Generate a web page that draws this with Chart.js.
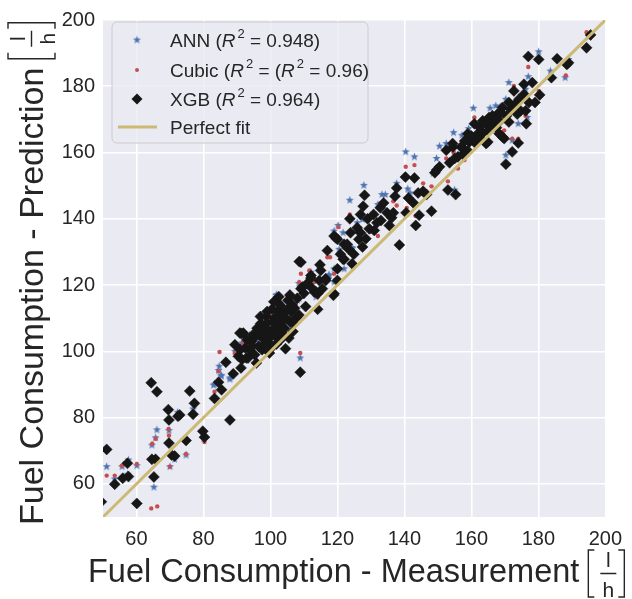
<!DOCTYPE html>
<html>
<head>
<meta charset="utf-8">
<script src="https://cdn.jsdelivr.net/npm/chart.js@4"></script>
<style>
  html, body { margin: 0; padding: 0; background: #ffffff; }
  #wrap { width: 632px; height: 599px; }
</style>
</head>
<body>
<div id="wrap"><canvas id="fuelChart" width="632" height="599"></canvas></div>
<script>
// tick values of both axes
const xTicks = [60, 80, 100, 120, 140, 160, 180, 200];
const yTicks = [60, 80, 100, 120, 140, 160, 180, 200];
const axisMin = 50;
const axisMax = 200;

// legend labels (R2 is drawn as italic R with superscript 2)
const annLabel = ['ANN (', 'R2', ' = 0.948)'];
const cubicLabel = ['Cubic (', 'R2', ' = (', 'R2', ' = 0.96)'];
const xgbLabel = ['XGB (', 'R2', ' = 0.964)'];
const fitLabel = ['Perfect fit'];
const xTitle = 'Fuel Consumption - Measurement';
const yTitle = 'Fuel Consumption - Prediction';

const xgbPoints = [
  [49.5,54.6],[51.1,70.4],[53.5,59.9],[55.9,61.7],[57.6,62.2],[57.3,66.2],[60.1,54.1],[64.4,90.5],
  [66.1,87.8],[64.6,67.4],[65.7,67.4],[65.2,62.1],[69.5,82.4],[69.7,79.3],[69.7,72.3],[70.5,68.7],
  [71.4,68.4],[72.4,80.4],[72.9,80.8],[74.8,73.1],[75.9,88.0],[77.3,84.3],[76.9,81.0],[79.8,75.9],
  [80.3,74.1],[83.3,85.8],[85.4,88.4],[84.5,90.7],[86.7,96.7],[87.9,79.3],[89.4,102.0],[88.9,93.2],
  [90.9,105.5],[91.9,105.5],[90.4,98.5],[91.2,95.0],[93.3,98.0],[95.3,99.0],[94.3,103.0],[94.8,105.0],
  [97.3,108.1],[98.3,106.0],[99.3,103.0],[100.2,101.0],[101.2,110.0],[102.2,112.0],[103.2,109.0],[102.2,114.7],
  [105.2,115.4],[106.2,112.0],[107.2,113.0],[104.2,107.0],[106.7,106.0],[100.7,106.5],[109.1,118.9],[108.6,127.1],
  [108.9,93.7],[96.5,101.5],[97.8,103.8],[99.0,108.5],[100.0,104.5],[101.5,107.5],[102.8,105.5],[103.8,111.5],
  [104.8,109.8],[105.5,104.0],[98.8,110.5],[100.5,112.8],[96.0,107.0],[92.5,101.0],[93.8,100.5],[95.8,96.5],
  [91.0,100.5],[99.7,99.5],[101.8,102.2],[103.0,103.5],[104.5,100.8],[106.0,108.8],[107.8,110.2],[108.5,111.0],
  [102.5,116.5],[101.0,115.0],[95.0,104.0],[96.8,105.2],[97.5,100.5],[98.0,102.0],[99.5,106.0],[100.8,109.0],
  [101.5,104.5],[102.0,110.5],[103.5,107.0],[104.0,105.0],[105.0,112.5],[106.5,114.0],[107.0,108.5],[105.8,117.0],
  [103.0,113.8],[99.0,112.0],[97.0,110.5],[93.0,103.5],[91.5,97.5],[94.5,101.5],[108.0,116.0],[110.0,117.5],
  [111.0,120.5],[112.5,119.0],[110.5,113.5],[91.3,105.4],[97.2,105.1],[109.6,119.4],[113.6,117.9],[112.1,122.9],
  [114.6,121.4],[116.5,121.9],[109.1,126.9],[97.1,108.4],[92.8,98.0],
  [112.1,122.1],[114.8,126.1],[115.0,124.4],[114.1,112.7],[113.1,117.9],[114.1,117.4],[117.0,130.4],[116.5,121.4],
  [115.5,118.9],[119.0,117.4],[120.0,124.9],[122.0,127.8],[123.4,130.8],[124.4,126.4],[119.5,134.3],[122.0,132.3],
  [118.8,116.9],[120.0,121.4],[121.7,127.8],[120.9,129.3],[119.0,134.8],[120.0,133.8],[124.9,129.3],[122.9,132.3],
  [123.9,135.8],[126.4,133.8],[126.9,135.8],[125.9,137.3],[123.7,140.0],[126.9,141.3],[127.7,143.8],[128.1,147.1],
  [127.5,131.5],[128.5,134.0],[129.5,137.0],[131.0,136.5],[133.0,139.5],[135.5,138.0],[129.0,140.0],
  [130.8,141.3],[131.8,138.8],[132.8,143.3],[133.8,144.8],[134.8,141.8],[136.2,140.3],[136.7,141.8],[137.2,146.8],
  [137.7,149.3],[138.5,132.1],[140.3,152.6],[143.0,152.3],[141.2,146.3],[142.7,144.8],[144.1,147.8],[145.6,148.3],
  [146.6,147.3],[140.5,141.8],[144.4,141.1],[143.4,138.0],[148.1,142.3],[149.6,154.7],[150.5,155.7],[149.1,153.9],
  [153.0,148.7],[155.3,147.3],[152.5,160.7],[154.5,161.7],[156.0,158.7],[157.2,161.7],[153.5,156.9],
  [154.4,162.7],[156.9,161.7],[155.0,158.2],[159.4,163.2],[158.9,165.7],[160.9,168.7],[161.9,165.7],[162.4,167.7],
  [163.4,169.6],[164.4,168.7],[165.3,170.6],[166.3,171.1],[167.3,169.6],[167.8,171.6],[168.8,172.1],[169.3,173.6],
  [158.0,163.5],[160.0,165.0],[161.0,163.0],[162.5,164.5],[163.5,166.0],[165.0,166.5],[166.0,169.0],[167.5,167.5],
  [168.5,169.5],[170.5,171.0],[171.8,173.0],[173.0,174.5],[157.5,159.5],[159.0,160.5],
  [164.4,162.7],[164.9,163.2],[166.3,167.7],[168.3,165.7],[169.3,164.7],[169.8,164.2],[171.2,175.1],[171.2,169.2],
  [172.7,178.6],[174.2,176.1],[175.7,180.6],[178.2,181.1],[175.7,177.6],[177.2,175.1],[176.2,172.6],[173.7,171.6],
  [174.7,172.6],[176.4,168.7],[174.0,162.9],[172.2,160.2],[170.3,156.5],[177.0,189.0],[180.1,188.1],[179.0,175.1],
  [180.4,177.4],[183.9,182.6],[185.6,188.3],[188.5,186.6],[189.0,187.1],[194.4,191.6],[195.6,195.5]
];
const annPoints = [
  [51.1,65.2],[53.5,61.5],[55.7,65.2],[57.6,67.2],[60.1,65.5],[57.3,62.9],[65.2,59.0],[64.6,71.7],
  [66.1,76.3],[65.7,73.9],[69.7,76.1],[70.0,65.2],[71.4,67.4],[72.3,81.6],[76.9,82.6],[74.8,68.7],
  [80.1,73.6],[83.3,90.1],[84.7,95.5],[84.5,94.2],[85.3,92.5],[87.9,91.6],[101.9,117.1],[108.1,115.4],
  [108.9,98.0],[103.7,109.6],[117.5,122.9],[119.0,120.9],[122.0,124.9],[124.4,131.0],[89.4,100.0],[91.4,102.5],
  [83.0,89.8],[85.3,92.8],[87.9,92.0],[93.8,105.0],[97.3,106.0],[102.7,109.5],[105.2,112.9],[112.1,123.9],
  [113.6,116.4],[140.4,160.2],[143.0,158.7],[127.9,150.1],[123.7,145.6],[133.3,147.3],[134.3,147.3],[137.7,150.7],
  [141.0,149.0],[141.7,147.8],[132.1,144.3],[120.2,138.0],[119.0,136.3],[121.7,135.8],[125.9,138.8],[127.4,139.8],
  [130.8,141.8],[124.4,131.3],[120.5,130.8],[150.5,161.9],[152.5,162.7],[149.6,158.2],[148.6,153.7],[155.0,148.7],
  [117.5,123.1],[119.0,124.9],[180.1,190.4],[177.0,182.9],[171.2,181.1],[188.0,182.6],[189.0,188.1],[183.6,184.6],
  [195.2,195.0],[160.6,173.4],[165.6,173.4],[167.3,174.1],[168.6,173.8],[170.3,176.1],[154.7,166.0],[157.2,165.2],
  [159.2,167.2],[174.0,168.7],[172.2,163.7],[170.3,159.2],[176.2,179.1],[176.7,170.6],[98.5,109.5],[100.5,111.0],
  [104.0,113.5],[106.5,110.5],[96.0,103.5],[110.5,119.5],[114.5,125.8],[108.5,120.5],[101.7,116.9],[108.6,115.9]
];
const cubicPoints = [
  [51.1,62.5],[53.5,62.5],[55.6,65.5],[56.4,66.2],[60.1,66.0],[64.4,52.6],[66.2,53.2],[64.7,72.1],
  [65.7,73.6],[69.6,76.6],[69.7,74.6],[70.0,65.2],[74.8,69.0],[80.3,72.6],[84.8,99.8],[84.5,94.0],
  [83.3,87.8],[89.4,99.5],[108.9,99.5],[105.2,116.9],[99.8,111.4],[102.2,108.0],[104.7,109.5],[109.1,123.4],
  [108.6,120.9],[113.1,120.9],[109.6,116.4],[114.1,116.4],[91.9,102.5],[90.4,98.0],[97.3,106.0],[97.8,108.0],
  [111.6,124.4],[117.0,128.4],[122.0,131.3],[123.4,131.3],[140.4,155.7],[143.0,156.2],[145.6,150.7],[148.1,149.8],
  [136.7,145.3],[137.7,144.0],[140.7,143.3],[143.4,140.8],[132.1,134.8],[129.8,136.0],[123.7,141.3],[124.9,136.0],
  [120.3,137.5],[119.5,134.8],[154.7,159.9],[155.5,157.7],[153.0,151.3],[152.5,158.2],[117.8,128.4],[119.0,123.4],
  [177.0,185.8],[194.4,196.3],[188.2,183.3],[174.0,164.2],[172.7,180.1],[160.9,170.6],[161.9,167.2],[154.7,160.2],
  [157.9,157.7],[156.0,155.2],[167.3,167.7],[169.3,166.2],[176.2,171.1],[180.1,178.6],[172.2,164.2],[169.8,166.7],
  [100.5,106.0],[103.5,112.0],[106.0,110.0],[95.5,102.0],[107.5,114.5],[100.2,111.0],[103.2,113.9]
];

const FONT = '"Liberation Sans", Arial, sans-serif';
const INK = '#262626';
const annColor = '#4C72B0';
const cubicColor = '#C44E52';
const xgbColor = '#161616';
const fitColor = '#CCB974';

// filled 5-point star like matplotlib's '*'
function makeStar(color, outer) {
  const size = Math.ceil(outer * 2 + 2);
  const c = document.createElement('canvas');
  c.width = size; c.height = size;
  const g = c.getContext('2d');
  const inner = outer * 0.42;
  g.beginPath();
  for (let i = 0; i < 10; i++) {
    const r = i % 2 ? inner : outer;
    const a = -Math.PI / 2 + i * Math.PI / 5;
    g.lineTo(size / 2 + r * Math.cos(a), size / 2 + r * Math.sin(a));
  }
  g.closePath();
  g.fillStyle = color;
  g.fill();
  return c;
}
const starImg = makeStar(annColor, 4.2);

const toXY = pts => pts.map(p => ({ x: p[0], y: p[1] }));

// draw label pieces, 'R2' becomes italic R with superscript 2
function drawRich(ctx, parts, x, y, size) {
  ctx.textBaseline = 'alphabetic';
  ctx.textAlign = 'left';
  ctx.fillStyle = INK;
  parts.forEach(p => {
    if (p === 'R2') {
      ctx.font = 'italic ' + size + 'px ' + FONT;
      ctx.fillText('R', x, y);
      x += ctx.measureText('R').width + 2;
      ctx.font = Math.round(size * 0.7) + 'px ' + FONT;
      ctx.fillText('2', x, y - size * 0.45);
      x += ctx.measureText('2').width;
    } else {
      ctx.font = size + 'px ' + FONT;
      ctx.fillText(p, x, y);
      x += ctx.measureText(p).width;
    }
  });
}

// [ l / h ] unit, x = left bracket, m = fraction bar
function drawUnit(ctx, x, m) {
  ctx.strokeStyle = INK;
  ctx.fillStyle = INK;
  ctx.lineWidth = 1.4;
  ctx.beginPath();
  ctx.moveTo(x + 6, m - 23.5); ctx.lineTo(x, m - 23.5); ctx.lineTo(x, m + 23.5); ctx.lineTo(x + 6, m + 23.5);
  ctx.moveTo(x + 30, m - 23.5); ctx.lineTo(x + 36, m - 23.5); ctx.lineTo(x + 36, m + 23.5); ctx.lineTo(x + 30, m + 23.5);
  ctx.moveTo(x + 12, m); ctx.lineTo(x + 28, m);
  ctx.stroke();
  ctx.font = '21px ' + FONT;
  ctx.textAlign = 'center';
  ctx.textBaseline = 'alphabetic';
  ctx.fillText('l', x + 20, m - 7);
  ctx.fillText('h', x + 20, m + 23);
}

const decorPlugin = {
  id: 'decor',
  beforeDraw(chart) {
    const { ctx, chartArea: a } = chart;
    ctx.save();
    ctx.fillStyle = '#EAEAF2';
    ctx.fillRect(a.left, a.top, a.right - a.left, a.bottom - a.top);
    ctx.restore();
  },
  afterDraw(chart) {
    const ctx = chart.ctx;
    ctx.save();
    // legend box
    const bx = 112, by = 22, bw = 256, bh = 121, r = 5;
    ctx.beginPath();
    ctx.roundRect(bx, by, bw, bh, r);
    ctx.fillStyle = 'rgba(234,234,242,0.8)';
    ctx.fill();
    ctx.strokeStyle = '#cccccc';
    ctx.lineWidth = 1;
    ctx.stroke();

    const rows = [40, 70, 99, 127];
    ctx.drawImage(starImg, 137 - starImg.width / 2, rows[0] - starImg.height / 2);
    ctx.fillStyle = cubicColor;
    ctx.beginPath(); ctx.arc(137, rows[1], 2, 0, Math.PI * 2); ctx.fill();
    ctx.fillStyle = xgbColor;
    ctx.beginPath();
    ctx.moveTo(137, rows[2] - 5.5); ctx.lineTo(142.5, rows[2]); ctx.lineTo(137, rows[2] + 5.5); ctx.lineTo(131.5, rows[2]);
    ctx.closePath(); ctx.fill();
    ctx.strokeStyle = fitColor;
    ctx.lineWidth = 3;
    ctx.beginPath(); ctx.moveTo(118, rows[3]); ctx.lineTo(157, rows[3]); ctx.stroke();

    drawRich(ctx, annLabel, 170, rows[0] + 7, 19);
    drawRich(ctx, cubicLabel, 170, rows[1] + 7, 19);
    drawRich(ctx, xgbLabel, 170, rows[2] + 7, 19);
    drawRich(ctx, fitLabel, 170, rows[3] + 7, 19);

    // axis titles
    ctx.font = '32.5px ' + FONT;
    ctx.fillStyle = INK;
    ctx.textAlign = 'left';
    ctx.textBaseline = 'alphabetic';
    ctx.fillText(xTitle, 88, 582);
    const wx = ctx.measureText(xTitle).width;
    drawUnit(ctx, 88 + wx + 9, 573.5);

    ctx.translate(43, 525);
    ctx.rotate(-Math.PI / 2);
    ctx.font = '34px ' + FONT;
    ctx.fillStyle = INK;
    ctx.textAlign = 'left';
    ctx.fillText(yTitle, 0, 0);
    const wy = ctx.measureText(yTitle).width;
    drawUnit(ctx, wy + 9, -11.5);
    ctx.restore();
  }
};

const ctx = document.getElementById('fuelChart').getContext('2d');
new Chart(ctx, {
  type: 'scatter',
  data: {
    datasets: [
      {
        label: 'Perfect fit',
        type: 'line',
        data: [{ x: axisMin, y: axisMin }, { x: axisMax, y: axisMax }],
        borderColor: fitColor,
        borderWidth: 3,
        pointRadius: 0,
        fill: false
      },
      {
        label: 'XGB',
        data: toXY(xgbPoints),
        pointStyle: 'rectRot',
        pointRadius: 5.5,
        backgroundColor: xgbColor,
        borderColor: xgbColor,
        borderWidth: 0.5
      },
      {
        label: 'Cubic',
        data: toXY(cubicPoints),
        pointStyle: 'circle',
        pointRadius: 2.2,
        backgroundColor: cubicColor,
        borderWidth: 0
      },
      {
        label: 'ANN',
        data: toXY(annPoints),
        pointStyle: starImg,
        pointRadius: 4
      }
    ]
  },
  options: {
    responsive: false,
    animation: false,
    devicePixelRatio: 1,
    layout: { padding: { top: 13, right: 22, left: 0, bottom: 0 } },
    plugins: { legend: { display: false }, tooltip: { enabled: false } },
    scales: {
      x: {
        type: 'linear',
        min: axisMin,
        max: axisMax,
        afterBuildTicks: s => { s.ticks = xTicks.map(v => ({ value: v })); },
        afterFit: s => { s.height = 82; },
        grid: { color: '#ffffff', lineWidth: 1.6, drawTicks: false },
        border: { display: false },
        ticks: { color: INK, font: { size: 20, family: FONT }, padding: 10, maxRotation: 0 }
      },
      y: {
        type: 'linear',
        min: axisMin,
        max: axisMax,
        afterBuildTicks: s => { s.ticks = yTicks.map(v => ({ value: v })); },
        afterFit: s => { s.width = 103; },
        grid: { color: '#ffffff', lineWidth: 1.6, drawTicks: false },
        border: { display: false },
        ticks: { color: INK, font: { size: 20, family: FONT }, padding: 8 }
      }
    }
  },
  plugins: [decorPlugin]
});
</script>
</body>
</html>
